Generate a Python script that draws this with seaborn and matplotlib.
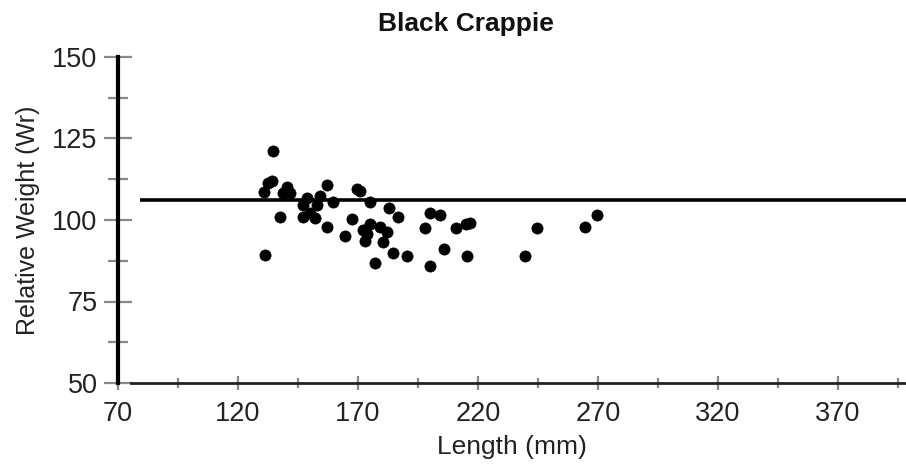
import pandas as pd
import numpy as np
import seaborn as sns
import matplotlib.pyplot as plt

# fish length (mm) and relative weight
length = [134.6, 132.5, 134.0, 131.0, 140.4, 138.8, 141.7, 137.5, 147.0, 147.0,
          150.0, 152.0, 153.0, 154.0, 157.0, 159.6, 157.0, 148.8, 169.6, 167.5,
          164.6, 172.0, 173.0, 131.2, 170.8, 175.0, 183.0, 186.7, 200.0, 204.0,
          198.0, 211.0, 215.0, 175.0, 179.0, 173.7, 182.0, 180.4, 184.6, 190.4,
          177.0, 206.0, 215.4, 200.0, 244.6, 264.6, 269.6, 239.6, 216.7]
rel_weight = [121.1, 111.2, 112.0, 108.5, 110.0, 108.2, 108.2, 100.8, 104.5, 100.8,
              102.0, 100.5, 104.5, 107.5, 110.6, 105.4, 97.7, 106.6, 109.4, 100.2,
              95.2, 96.8, 93.7, 89.4, 109.0, 105.4, 103.8, 100.8, 102.0, 101.4,
              97.4, 97.4, 98.9, 98.9, 97.7, 95.8, 96.2, 93.1, 90.0, 89.0,
              86.9, 91.2, 89.0, 86.0, 97.4, 97.7, 101.4, 89.0, 99.2]
target_wr = 106.0
line_start = 79

x_major = [70, 120, 170, 220, 270, 320, 370]
x_minor = [95, 145, 195, 245, 295, 345, 395]
y_major = [50, 75, 100, 125, 150]
y_minor = [62.5, 87.5, 112.5, 137.5]

df = pd.DataFrame({'Length (mm)': length, 'Relative Weight (Wr)': rel_weight})

sns.set_style('ticks')
plt.rcParams['font.family'] = ['Liberation Sans', 'DejaVu Sans']

fig = plt.figure(figsize=(9.06, 4.72), dpi=100)
ax = fig.add_axes([118 / 906, 1 - 383 / 472, 788 / 906, (383 - 57) / 472])

sns.scatterplot(data=df, x='Length (mm)', y='Relative Weight (Wr)', color='black',
                s=65, marker='o', edgecolor='black', linewidth=0.5, ax=ax, zorder=3,
                clip_on=False)
ax.hlines(target_wr, line_start, 398.3, color='black', lw=2.6, zorder=2)

ax.set_xlim(70, 398.3)
ax.set_ylim(50, 150)
ax.set_xticks(x_major)
ax.set_xticks(x_minor, minor=True)
ax.set_yticks(y_major)
ax.set_yticks(y_minor, minor=True)

for s in ['top', 'right']:
    ax.spines[s].set_visible(False)
ax.spines['left'].set_linewidth(3)
ax.spines['left'].set_color('black')
ax.spines['bottom'].set_linewidth(2)
ax.spines['bottom'].set_color('#222222')
ax.spines['bottom'].set_bounds(75.5, 398.3)

ax.tick_params(axis='y', which='major', direction='inout', length=19.5, width=1.6,
               color='#888888', labelsize=19.5, labelcolor='#222222', pad=5)
ax.tick_params(axis='y', which='minor', direction='inout', length=14.5, width=1.6,
               color='#888888')
ax.tick_params(axis='x', which='major', direction='inout', length=9.5, width=1.6,
               color='#888888', labelsize=19.5, labelcolor='#222222', pad=8)
ax.tick_params(axis='x', which='minor', direction='inout', length=6.5, width=1.6,
               color='#888888')

ax.set_xlabel('Length (mm)', fontsize=19, color='#222222', labelpad=6)
ax.set_ylabel('Relative Weight (Wr)', fontsize=18, color='#222222', labelpad=9)

fig.text(466 / 906, 1 - 24 / 472, 'Black Crappie', ha='center', va='center',
         fontsize=19, fontweight='bold', color='#111111')

plt.savefig('out.png', dpi=100)
print('SUCCESS_CHART_GENERATED')
